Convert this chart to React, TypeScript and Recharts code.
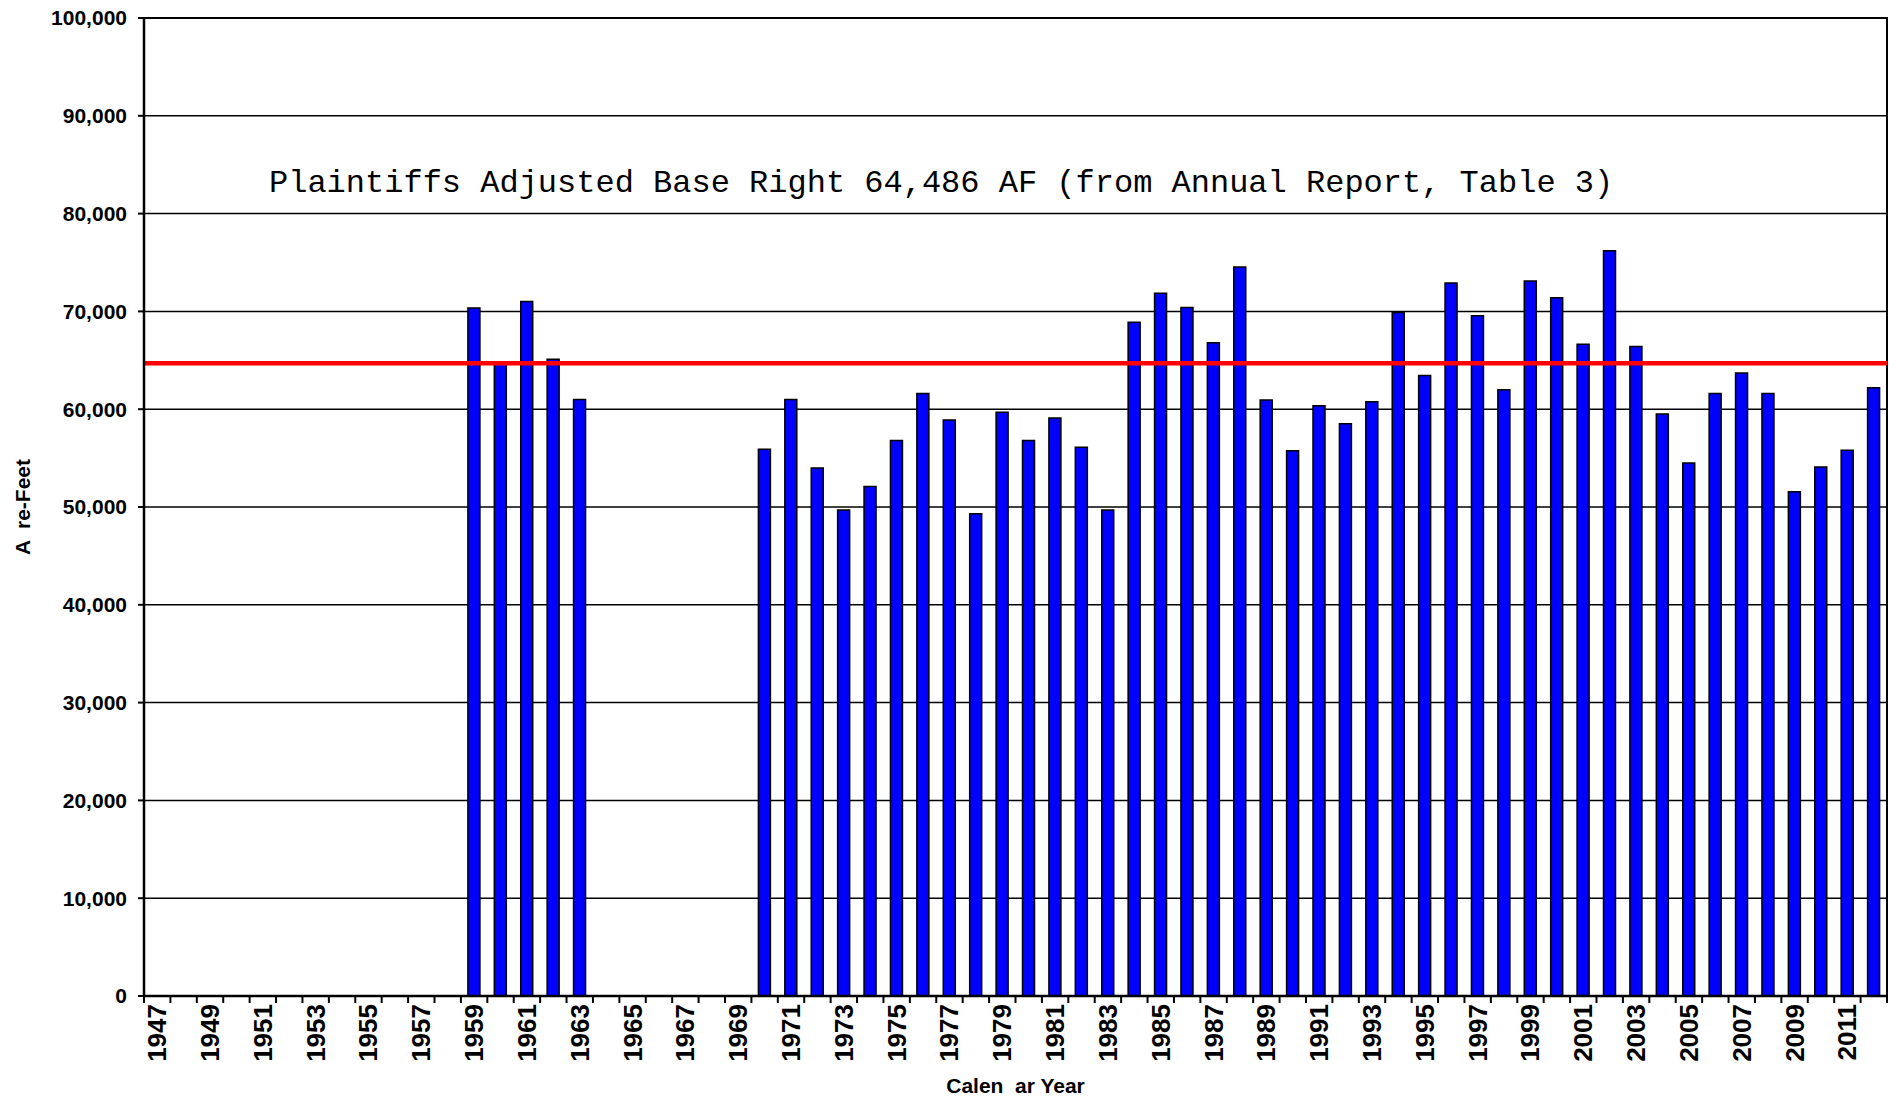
import React from 'react';
import {
  ComposedChart,
  Bar,
  XAxis,
  YAxis,
  CartesianGrid,
  ReferenceLine,
  ReferenceArea,
} from 'recharts';

const years = [
  '1947', '1948', '1949', '1950', '1951', '1952', '1953', '1954', '1955', '1956', '1957',
  '1958', '1959', '1960', '1961', '1962', '1963', '1964', '1965', '1966', '1967', '1968',
  '1969', '1970', '1971', '1972', '1973', '1974', '1975', '1976', '1977', '1978', '1979',
  '1980', '1981', '1982', '1983', '1984', '1985', '1986', '1987', '1988', '1989', '1990',
  '1991', '1992', '1993', '1994', '1995', '1996', '1997', '1998', '1999', '2000', '2001',
  '2002', '2003', '2004', '2005', '2006', '2007', '2008', '2009', '2010', '2011', '2012',
];

// acre-feet per calendar year (null = no record)
const acreFeet = [
  null, null, null, null, null, null, null, null, null, null, null,
  null, 70350, 64600, 71000, 65100, 61000, null, null, null, null, null,
  null, 55900, 61000, 54000, 49700, 52100, 56800, 61600, 58900, 49300, 59700,
  56800, 59100, 56100, 49700, 68900, 71850, 70400, 66800, 74550, 60950, 55750,
  60350, 58500, 60750, 69900, 63450, 72900, 69550, 62000, 73100, 71400, 66650,
  76200, 66400, 59500, 54500, 61600, 63700, 61600, 51550, 54100, 55800, 62200,
];

const yTicks = [0, 10000, 20000, 30000, 40000, 50000, 60000, 70000, 80000, 90000, 100000];

// base right line as drawn on the chart
const baseRightValue = 64700;

const titleText = 'Plaintiffs Adjusted Base Right 64,486 AF (from Annual Report, Table 3)';
const titleValue = 83400;

const data = years.map((year, i) => ({ year, af: acreFeet[i] }));

const W = 1898;
const H = 1100;
const M = { top: 18, right: 11, left: 0, bottom: 0 };
const Y_W = 144;
const X_H = 104;
const PLOT_W = W - M.right - M.left - Y_W;
const BAND = PLOT_W / years.length;

const boldFont = "'Liberation Sans', Arial, sans-serif";

function YearTick(props: any) {
  const { x, y, payload, index } = props;
  const i = payload?.index ?? index;
  const left = x - BAND / 2;
  return (
    <g>
      <line x1={left} y1={y} x2={left} y2={y + 7} stroke="#000" strokeWidth={2} />
      {i === years.length - 1 && (
        <line x1={x + BAND / 2} y1={y} x2={x + BAND / 2} y2={y + 7} stroke="#000" strokeWidth={2} />
      )}
      {i % 2 === 0 && (
        <text
          x={0}
          y={0}
          transform={`translate(${x + 9},${y + 8}) rotate(-90)`}
          textAnchor="end"
          fontFamily={boldFont}
          fontWeight="bold"
          fontSize={26}
          fill="#000"
        >
          {payload.value}
        </text>
      )}
    </g>
  );
}

export default function App() {
  return (
    <div
      style={{
        position: 'fixed',
        left: 0,
        top: 0,
        width: W,
        height: H,
        overflow: 'hidden',
        background: '#fff',
      }}
    >
      <ComposedChart width={W} height={H} data={data} margin={M} barCategoryGap={0}>
        <CartesianGrid vertical={false} stroke="#000" strokeWidth={1.5} />
        {/* plot frame */}
        <ReferenceArea
          x1={years[0]}
          x2={years[years.length - 1]}
          y1={0}
          y2={100000}
          fill="none"
          fillOpacity={0}
          stroke="#000"
          strokeWidth={2}
          ifOverflow="visible"
        />
        <XAxis
          dataKey="year"
          interval={0}
          height={X_H}
          tickSize={0}
          tickMargin={0}
          tickLine={false}
          axisLine={{ stroke: '#000', strokeWidth: 2.5 }}
          tick={<YearTick />}
          label={({ viewBox }: any) => (
            <text
              x={viewBox.x + viewBox.width / 2}
              y={viewBox.y + 89}
              textAnchor="middle"
              dominantBaseline="central"
              fontFamily={boldFont}
              fontWeight="bold"
              fontSize={21}
              fill="#000"
              style={{ whiteSpace: 'pre' }}
            >
              Calen  ar Year
            </text>
          )}
        />
        <YAxis
          width={Y_W}
          domain={[0, 100000]}
          ticks={yTicks}
          interval={0}
          tickFormatter={(v: number) => v.toLocaleString('en-US')}
          tickSize={6}
          tickMargin={11}
          tickLine={{ stroke: '#000', strokeWidth: 2 }}
          axisLine={{ stroke: '#000', strokeWidth: 2.5 }}
          tick={{ fill: '#000', fontSize: 21, fontWeight: 'bold', fontFamily: boldFont }}
          label={({ viewBox }: any) => (
            <text
              x={0}
              y={0}
              transform={`translate(22,${viewBox.y + viewBox.height / 2}) rotate(-90)`}
              textAnchor="middle"
              dominantBaseline="central"
              fontFamily={boldFont}
              fontWeight="bold"
              fontSize={21}
              fill="#000"
              style={{ whiteSpace: 'pre' }}
            >
              A  re-Feet
            </text>
          )}
        />
        <Bar
          dataKey="af"
          barSize={12}
          fill="#0000FF"
          stroke="#000"
          strokeWidth={1.5}
          isAnimationActive={false}
        />
        <ReferenceLine
          y={baseRightValue}
          stroke="#FF0000"
          strokeWidth={4.5}
          ifOverflow="hidden"
        />
        <ReferenceLine
          y={titleValue}
          stroke="none"
          label={{
            value: titleText,
            position: 'insideLeft',
            offset: 125,
            fill: '#000',
            fontSize: 32,
            fontFamily: "'Liberation Mono', 'Courier New', monospace",
          }}
        />
      </ComposedChart>
    </div>
  );
}
